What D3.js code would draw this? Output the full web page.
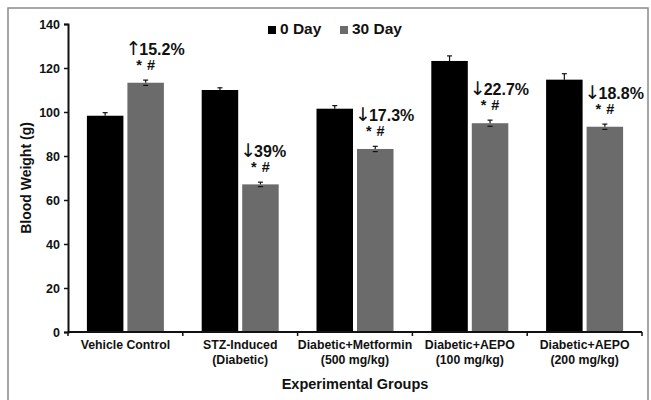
<!DOCTYPE html>
<html>
  <head>
    <script src="https://d3js.org/d3.v7.min.js"></script>
    <style>
      body { margin: 0; background-color: white; }
      text { font-family: 'Liberation Sans', Arial, sans-serif; font-weight: bold; fill: #111; }
    </style>
  </head>
  <body>
    <svg id="canvas" width="651" height="400"></svg>
    <script>
      const groups = [
        ['Vehicle Control'],
        ['STZ-Induced', '(Diabetic)'],
        ['Diabetic+Metformin', '(500 mg/kg)'],
        ['Diabetic+AEPO', '(100 mg/kg)'],
        ['Diabetic+AEPO', '(200 mg/kg)']
      ]
      const seriesNames = ['0 Day', '30 Day']
      const day0 = [98.3, 110, 101.5, 123.2, 114.7]
      const day0Err = [1.4, 1.0, 1.4, 2.3, 2.7]
      const day30 = [113.3, 67.1, 83.2, 94.9, 93.3]
      const day30Err = [1.2, 1.0, 1.2, 1.4, 1.2]
      const changes = ['↑', '↓', '↓', '↓', '↓']
      const changeLabels = ['15.2%', '39%', '17.3%', '22.7%', '18.8%']
      const yTicks = [0, 20, 40, 60, 80, 100, 120, 140]

      const colors = ['#000000', '#6b6b6b']

      let margin = { top: 24, right: 9, bottom: 68, left: 68 }
      let svg = d3.select('#canvas')
      let width = 651 - margin.left - margin.right
      let height = 400 - margin.top - margin.bottom

      // outer frame
      svg.append('rect')
        .attr('x', 8).attr('y', 8)
        .attr('width', 640).attr('height', 400)
        .attr('fill', 'none')
        .attr('stroke', '#8a8a8a')
        .attr('stroke-width', 1.5)

      let g = svg.append('g').attr('transform', `translate(${margin.left}, ${margin.top})`)

      let x = d3.scaleBand().domain(d3.range(groups.length)).range([0, width]).padding(0)
      let y = d3.scaleLinear().domain([0, 140]).range([height, 0])

      const barW = 36.5
      const gap = 4
      const offset = (x.bandwidth() - (2 * barW + gap)) / 2

      let rows = []
      groups.forEach((grp, i) => {
        rows.push({ i, s: 0, v: day0[i], e: day0Err[i] })
        rows.push({ i, s: 1, v: day30[i], e: day30Err[i] })
      })
      const barX = d => x(d.i) + offset + d.s * (barW + gap)

      g.selectAll('rect.bar').data(rows).enter()
        .append('rect')
          .attr('class', 'bar')
          .attr('x', barX)
          .attr('y', d => y(d.v))
          .attr('width', barW)
          .attr('height', d => y(0) - y(d.v))
          .attr('fill', d => colors[d.s])

      // error bars
      let eb = g.selectAll('g.err').data(rows).enter().append('g').attr('class', 'err')
      eb.append('line')
        .attr('x1', d => barX(d) + barW / 2).attr('x2', d => barX(d) + barW / 2)
        .attr('y1', d => y(d.v)).attr('y2', d => y(d.v + d.e))
        .attr('stroke', '#111').attr('stroke-width', 1.2)
      eb.append('line')
        .attr('x1', d => barX(d) + barW / 2 - 2.5).attr('x2', d => barX(d) + barW / 2 + 2.5)
        .attr('y1', d => y(d.v + d.e)).attr('y2', d => y(d.v + d.e))
        .attr('stroke', '#111').attr('stroke-width', 1.2)
      eb.filter(d => d.s === 1).append('line')
        .attr('x1', d => barX(d) + barW / 2 - 2.5).attr('x2', d => barX(d) + barW / 2 + 2.5)
        .attr('y1', d => y(d.v - d.e)).attr('y2', d => y(d.v - d.e))
        .attr('stroke', '#111').attr('stroke-width', 1.2)

      // y axis
      let yAxis = g.append('g')
        .call(d3.axisLeft(y).tickValues(yTicks).tickSize(4).tickPadding(4))
      yAxis.select('.domain').attr('stroke', '#111').attr('stroke-width', 2)
      yAxis.selectAll('.tick line').attr('stroke', '#111').attr('stroke-width', 1.5)
      yAxis.selectAll('.tick text')
        .style('font-family', "'Liberation Sans', Arial, sans-serif")
        .style('font-weight', 'bold')
        .style('font-size', '12.5px')
        .attr('fill', '#111')

      // x axis with ticks at the band edges
      let xAxis = g.append('g').attr('transform', `translate(0, ${height})`)
      xAxis.append('line')
        .attr('x1', 0).attr('x2', width)
        .attr('stroke', '#111').attr('stroke-width', 2)
      xAxis.selectAll('line.tk').data(d3.range(groups.length + 1)).enter()
        .append('line')
          .attr('class', 'tk')
          .attr('x1', i => i * x.bandwidth()).attr('x2', i => i * x.bandwidth())
          .attr('y1', 0).attr('y2', 4)
          .attr('stroke', '#111').attr('stroke-width', 1.5)

      let catLabels = xAxis.selectAll('text.cat').data(groups).enter()
        .append('text')
          .attr('class', 'cat')
          .attr('text-anchor', 'middle')
          .style('font-size', '12.3px')
      catLabels.selectAll('tspan').data((d, i) => d.map(t => ({ t, i }))).enter()
        .append('tspan')
          .attr('x', d => x(d.i) + x.bandwidth() / 2)
          .attr('y', (d, j) => 17 + j * 15)
          .text(d => d.t)

      // axis titles
      svg.append('text')
        .attr('x', margin.left + width / 2)
        .attr('y', 389)
        .attr('text-anchor', 'middle')
        .style('font-size', '14.5px')
        .text('Experimental Groups')

      svg.append('text')
        .attr('transform', `translate(31, ${margin.top + height / 2}) rotate(-90)`)
        .attr('text-anchor', 'middle')
        .style('font-size', '14px')
        .text('Blood Weight (g)')

      // change annotations above the 30 day bars
      let ann = g.selectAll('g.ann').data(groups).enter().append('g').attr('class', 'ann')
      let pct = ann.append('text')
        .attr('x', (d, i) => x(i) + offset + barW + gap - 2)
        .attr('y', (d, i) => y(day30[i] + day30Err[i]) - 25)
        .style('font-size', '16px')
      pct.append('tspan')
        .style('font-family', "'DejaVu Sans', sans-serif")
        .style('font-weight', 'normal')
        .style('font-size', '19px')
        .text((d, i) => changes[i])
      pct.append('tspan')
        .attr('dx', -2)
        .text((d, i) => changeLabels[i])

      ann.append('text')
        .attr('x', (d, i) => x(i) + offset + barW + gap + barW / 2)
        .attr('y', (d, i) => y(day30[i] + day30Err[i]) - 10)
        .attr('text-anchor', 'middle')
        .style('font-size', '14.5px')
        .style('word-spacing', '1px')
        .text('* #')

      // legend
      let legend = svg.append('g').attr('transform', 'translate(268, 25)')
      let li = legend.selectAll('g').data(seriesNames).enter()
        .append('g')
          .attr('transform', (d, i) => `translate(${i * 72}, 0)`)
      li.append('rect')
        .attr('width', 8).attr('height', 8)
        .attr('y', 1)
        .attr('fill', (d, i) => colors[i])
      li.append('text')
        .attr('x', 12)
        .attr('y', 9)
        .style('font-size', '15.5px')
        .text(d => d)
    </script>
  </body>
</html>
